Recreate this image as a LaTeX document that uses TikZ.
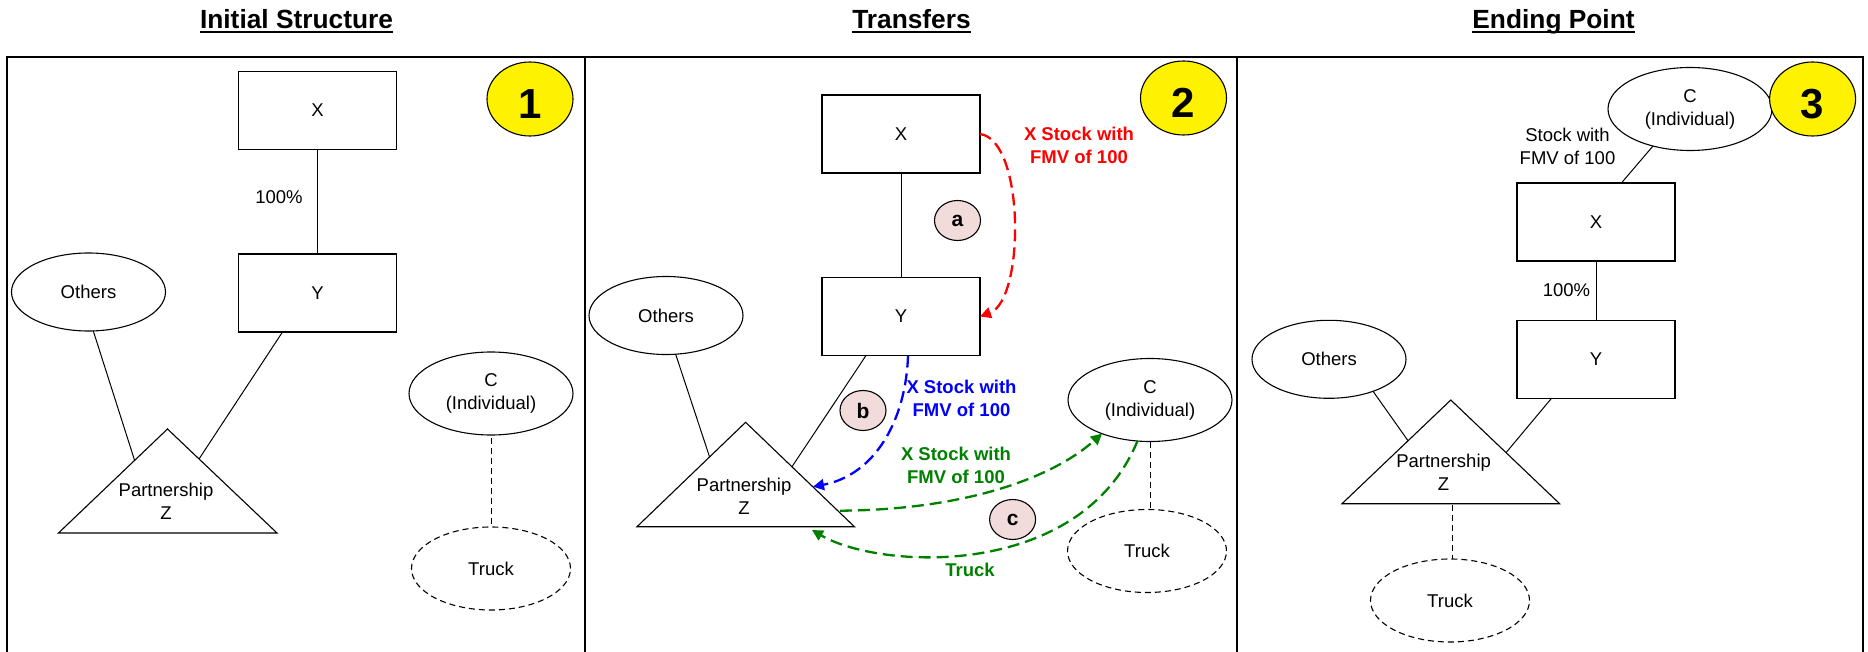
\documentclass[tikz,border=0pt]{standalone}
\usepackage{fontspec}
\setmainfont{Liberation Sans}
\usetikzlibrary{shapes.geometric,arrows.meta}
\definecolor{pinkfill}{RGB}{242,220,219}
\definecolor{dgreen}{RGB}{0,128,0}
\begin{document}
\begin{tikzpicture}[x=1pt,y=-1pt,
  every node/.style={inner sep=0pt, outer sep=0pt, align=center, font=\fontsize{18.5}{23}\selectfont},
  boxnode/.style={draw, line width=1.1pt, minimum width=158pt, minimum height=78pt},
  ovalnode/.style={draw, ellipse, line width=1.1pt},
  othersnode/.style={ovalnode, minimum width=154pt, minimum height=78pt},
  indivnode/.style={ovalnode, minimum width=164pt, minimum height=83pt},
  trucknode/.style={ovalnode, dash pattern=on 6pt off 4pt, minimum width=159pt, minimum height=83pt},
  numnode/.style={draw, ellipse, fill=yellow, line width=1.1pt, minimum width=86pt, minimum height=74pt, text height=39pt, font=\bfseries\fontsize{42}{42}\selectfont},
  letnode/.style={draw, ellipse, fill=pinkfill, line width=1.1pt, minimum width=46pt, minimum height=40pt, font=\bfseries\fontsize{21}{21}\selectfont},
  titlenode/.style={anchor=base, font=\bfseries\fontsize{26.3}{30}\selectfont},
  link/.style={line width=1pt},
  dlink/.style={line width=1pt, dash pattern=on 6pt off 4pt},
  flow/.style={line width=2.3pt, dash pattern=on 12pt off 6pt, -{Triangle[length=11pt,width=11pt]}},
  lbl/.style={font=\bfseries\fontsize{18.5}{23}\selectfont},
  tri/.style={draw, line width=1.1pt, line join=miter},
  frame/.style={line width=2pt}
]
\useasboundingbox (0,0) rectangle (1868,652);
% frame
\draw[frame] (6.7,652) -- (6.7,57) -- (1863,57) -- (1863,652);
\draw[frame] (585,57) -- (585,652);
\draw[frame] (1237,57) -- (1237,652);

% ---------- Panel 1 ----------
\node[titlenode] (t1) at (296.5,28.3) {Initial Structure};
\draw[line width=2pt] ([yshift=-3.4pt]t1.base west) -- ([yshift=-3.4pt]t1.base east);
\node[boxnode] (x1) at (317.5,110.5) {X};
\node[boxnode] (y1) at (317.5,293) {Y};
\draw[link] (x1) -- (y1);
\node (p1) at (279,197) {100\%};
\node[numnode] (n1) at (530,99) {1};
\node[othersnode] (o1) at (88.5,292) {Others};
\coordinate (a1) at (167.5,429);
\coordinate (bl1) at (58.5,533);
\coordinate (br1) at (277,533);
\draw[tri] (a1) -- (bl1) -- (br1) -- cycle;
\node (z1) at (166,501) {Partnership\\Z};
\coordinate (z1l) at (134.5,460);
\coordinate (z1r) at (199,459);
\draw[link] (o1.-83) -- (z1l);
\draw[link] ([xshift=-35pt]y1.south) -- (z1r);
\node[indivnode] (c1) at (491,393.5) {C\\(Individual)};
\node[trucknode] (k1) at (491,568.5) {Truck};
\draw[dlink] ([yshift=-3pt]c1.south) -- (k1.north);

% ---------- Panel 2 ----------
\node[titlenode] (t2) at (911.5,28.3) {Transfers};
\draw[line width=2pt] ([yshift=-3.4pt]t2.base west) -- ([yshift=-3.4pt]t2.base east);
\node[boxnode] (x2) at (901,134) {X};
\node[boxnode] (y2) at (901,316.5) {Y};
\draw[link] (x2) -- (y2);
\node[numnode] (n2) at (1183.5,98) {2};
\node[letnode] (la) at (957.5,220.5) {a};
\node[othersnode] (o2) at (666,315.5) {Others};
\coordinate (a2) at (745.6,422.3);
\coordinate (bl2) at (637,526.7);
\coordinate (br2) at (854.4,526.7);
\draw[tri] (a2) -- (bl2) -- (br2) -- cycle;
\node (z2) at (744,496) {Partnership\\Z};
\coordinate (z2l) at (709.5,456.7);
\coordinate (z2r) at (792,466.7);
\draw[link] (o2.-76) -- (z2l);
\draw[link] ([xshift=-35pt]y2.south) -- (z2r);
\node[letnode] (lb) at (863,410.5) {b};
\node[indivnode] (c2) at (1150,400) {C\\(Individual)};
\node[trucknode] (k2) at (1147,551) {Truck};
\draw[dlink] (c2.south) -- (c2.south |- k2.north);
\node[letnode] (lc) at (1012.6,519.5) {c};
\node[lbl, text=red] (lr) at (1079,145.5) {X Stock with\\FMV of 100};
\node[lbl, text=blue] (lbb) at (961.5,398.5) {X Stock with\\FMV of 100};
\node[lbl, text=dgreen] (lg) at (956,465.5) {X Stock with\\FMV of 100};
\node[lbl, text=dgreen] (lt) at (970,570) {Truck};
\draw[flow, red] (x2.east) .. controls (1025,140) and (1025,300) .. (y2.east);
\coordinate (z2b) at (813,486.7);
\draw[flow, blue] ([xshift=7pt]y2.south) .. controls (906,420) and (875,475) .. (z2b);
\coordinate (z2g) at (840,510.7);
\draw[flow, dgreen] (z2g) .. controls (960,510) and (1050,480) .. (c2.-145);
\coordinate (z2t) at (812,530);
\draw[flow, dgreen] (c2.-107) .. controls (1080,580) and (880,570) .. (z2t);

% ---------- Panel 3 ----------
\node[titlenode] (t3) at (1553.5,28.3) {Ending Point};
\draw[line width=2pt] ([yshift=-3.4pt]t3.base west) -- ([yshift=-3.4pt]t3.base east);
\node[indivnode] (c3) at (1690,109) {C\\(Individual)};
\node[numnode] (n3) at (1812.6,99) {3};
\node (s3) at (1567.5,146.5) {Stock with\\FMV of 100};
\node[boxnode] (x3) at (1596,222) {X};
\node[boxnode] (y3) at (1596,359.3) {Y};
\draw[link] (x3) -- (y3);
\node (p3) at (1566.5,290) {100\%};
\draw[link] (c3.-135) -- ([xshift=25.4pt]x3.north);
\node[othersnode] (o3) at (1329,359.3) {Others};
\coordinate (a3) at (1450.8,400);
\coordinate (bl3) at (1342,503.7);
\coordinate (br3) at (1559.6,503.7);
\draw[tri] (a3) -- (bl3) -- (br3) -- cycle;
\node (z3) at (1443.6,472) {Partnership\\Z};
\coordinate (z3l) at (1408,440.7);
\coordinate (z3r) at (1506,452.7);
\draw[link] (o3.-36) -- (z3l);
\draw[link] ([xshift=-44.5pt]y3.south) -- (z3r);
\node[trucknode] (k3) at (1450,600.5) {Truck};
\coordinate (z3b) at (1452,505);
\draw[dlink] (z3b) -- (z3b |- k3.north);
\end{tikzpicture}
\end{document}
